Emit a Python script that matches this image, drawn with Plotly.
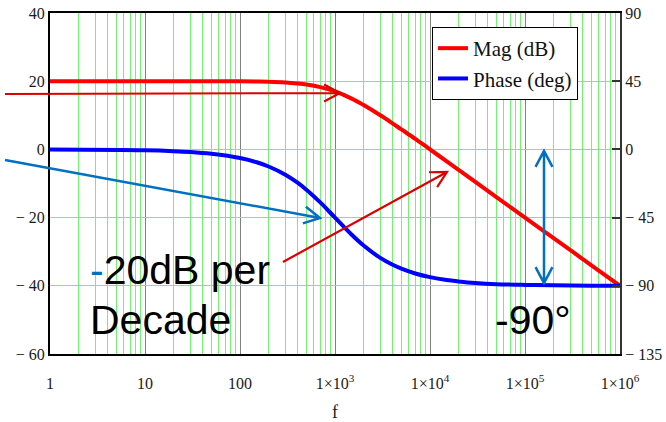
import math
import plotly.graph_objects as go

# ---- data ----
freq = [1, 10, 20, 30, 50, 100, 150, 200, 300, 400, 500, 700, 1000, 1500, 2000,
        3000, 4000, 5000, 7000, 10000, 15000, 20000, 30000, 50000, 100000,
        200000, 500000, 1000000]
mag_db = [20.0, 20.0, 20.0, 20.0, 19.99, 19.96, 19.9, 19.83, 19.63, 19.35, 19.03,
          18.27, 17.0, 14.9, 13.0, 10.0, 7.7, 5.85, 3.1, 0.0, -3.5, -6.0, -9.5,
          -14.0, -20.0, -26.0, -34.0, -40.0]
phase_deg = [-0.1, -0.6, -1.15, -1.7, -2.9, -5.7, -8.5, -11.3, -16.7, -21.8, -26.6,
             -35.0, -45.0, -56.3, -63.4, -71.6, -76.0, -78.7, -81.9, -84.3, -86.2,
             -87.1, -88.1, -88.9, -89.4, -89.7, -89.9, -89.9]

x_tickvals = [1, 10, 100, 1000, 10000, 100000, 1000000]
x_ticktext = ["1", "10", "100", "1×10<sup>3</sup>", "1×10<sup>4</sup>",
              "1×10<sup>5</sup>", "1×10<sup>6</sup>"]
y_tickvals = [40, 20, 0, -20, -40, -60]
y_ticktext = ["40", "20", "0", "− 20", "− 40", "− 60"]
y2_tickvals = [90, 45, 0, -45, -90, -135]
y2_ticktext = ["90", "45", "0", "− 45", "− 90", "− 135"]

W, H = 666, 422
L, R, T, B = 50, 46, 13, 68
PW, PH = W - L - R, H - T - B

def px(x):
    return (x - L) / PW

def py(y):
    return (H - B - y) / PH

SERIF = "Liberation Serif"
SANS = "Liberation Sans"
BLUE_ANN = "rgb(0,112,192)"
RED_ANN = "rgb(220,0,0)"

fig = go.Figure()
fig.add_trace(go.Scatter(x=freq, y=mag_db, name="Mag (dB)", mode="lines",
                         line=dict(color="#ff0000", width=4, shape="spline")))
fig.add_trace(go.Scatter(x=freq, y=phase_deg, name="Phase (deg)", mode="lines",
                         yaxis="y2",
                         line=dict(color="#0000ff", width=4, shape="spline")))

def arrow_path(x0, y0, x1, y1, head=18, ang=28, double=False):
    def head_at(tx, ty, fx, fy):
        d = math.atan2(fy - ty, fx - tx)
        a1 = d + math.radians(ang)
        a2 = d - math.radians(ang)
        p1 = (tx + head * math.cos(a1), ty + head * math.sin(a1))
        p2 = (tx + head * math.cos(a2), ty + head * math.sin(a2))
        return (f" M{px(p1[0])},{py(p1[1])} L{px(tx)},{py(ty)} "
                f"L{px(p2[0])},{py(p2[1])}")
    s = f"M{px(x0)},{py(y0)} L{px(x1)},{py(y1)}"
    s += head_at(x1, y1, x0, y0)
    if double:
        s += head_at(x0, y0, x1, y1)
    return s

shapes = [
    dict(type="path", xref="paper", yref="paper",
         path=arrow_path(5, 94, 340, 93), line=dict(color=RED_ANN, width=2.2)),
    dict(type="path", xref="paper", yref="paper",
         path=arrow_path(5, 160, 320, 218), line=dict(color=BLUE_ANN, width=2.5)),
    dict(type="path", xref="paper", yref="paper",
         path=arrow_path(283, 262, 447, 172), line=dict(color=RED_ANN, width=2.2)),
    dict(type="path", xref="paper", yref="paper",
         path=arrow_path(544, 151, 544, 283, double=True),
         line=dict(color=BLUE_ANN, width=2.5)),
]

annotations = [
    dict(xref="paper", yref="paper", x=px(88), y=py(270), xanchor="left",
         yanchor="middle", showarrow=False,
         text=f'<span style="color:{BLUE_ANN}">-</span>20dB per',
         font=dict(family=SANS, size=41, color="black")),
    dict(xref="paper", yref="paper", x=px(88), y=py(320), xanchor="left",
         yanchor="middle", showarrow=False, text="Decade",
         font=dict(family=SANS, size=41, color="black")),
    dict(xref="paper", yref="paper", x=px(493), y=py(320), xanchor="left",
         yanchor="middle", showarrow=False, text="-90°",
         font=dict(family=SANS, size=41, color="black")),
]

GREEN = "rgb(110,245,110)"
fig.update_layout(
    width=W, height=H,
    margin=dict(l=L, r=R, t=T, b=B, pad=0, autoexpand=False),
    paper_bgcolor="white", plot_bgcolor="white",
    showlegend=True,
    legend=dict(x=px(432), y=py(27), xanchor="left", yanchor="top",
                bgcolor="white", bordercolor="black", borderwidth=1,
                font=dict(family=SERIF, size=21, color="#111"),
                tracegroupgap=0),
    xaxis=dict(type="log", range=[0, 6], tickvals=x_tickvals, ticktext=x_ticktext,
               showgrid=True, gridcolor="#808080", gridwidth=1.2,
               minor=dict(dtick="D1", showgrid=True, gridcolor=GREEN, gridwidth=1.2),
               showline=True, linecolor="black", linewidth=2, mirror=True,
               ticks="outside", ticklen=14, tickcolor="rgba(0,0,0,0)",
               tickfont=dict(family=SERIF, size=16, color="#1a1a1a"),
               title=dict(text="f", font=dict(family=SERIF, size=18, color="#1a1a1a"),
                          standoff=19),
               zeroline=False, automargin=False),
    yaxis=dict(range=[-60, 40], tickvals=y_tickvals, ticktext=y_ticktext,
               showgrid=True, gridcolor=GREEN, gridwidth=1.2,
               showline=True, linecolor="black", linewidth=2,
               ticks="", tickfont=dict(family=SERIF, size=16, color="#1a1a1a"),
               zeroline=False, automargin=False),
    yaxis2=dict(range=[-135, 90], tickvals=y2_tickvals, ticktext=y2_ticktext,
                overlaying="y", side="right", showgrid=False,
                showline=True, linecolor="#333", linewidth=2,
                ticks="inside", ticklen=8, tickwidth=2, tickcolor="#333",
                tickfont=dict(family=SERIF, size=16, color="#1a1a1a"),
                zeroline=False, automargin=False),
    shapes=shapes,
    annotations=annotations,
)

fig.write_html("out.html")
